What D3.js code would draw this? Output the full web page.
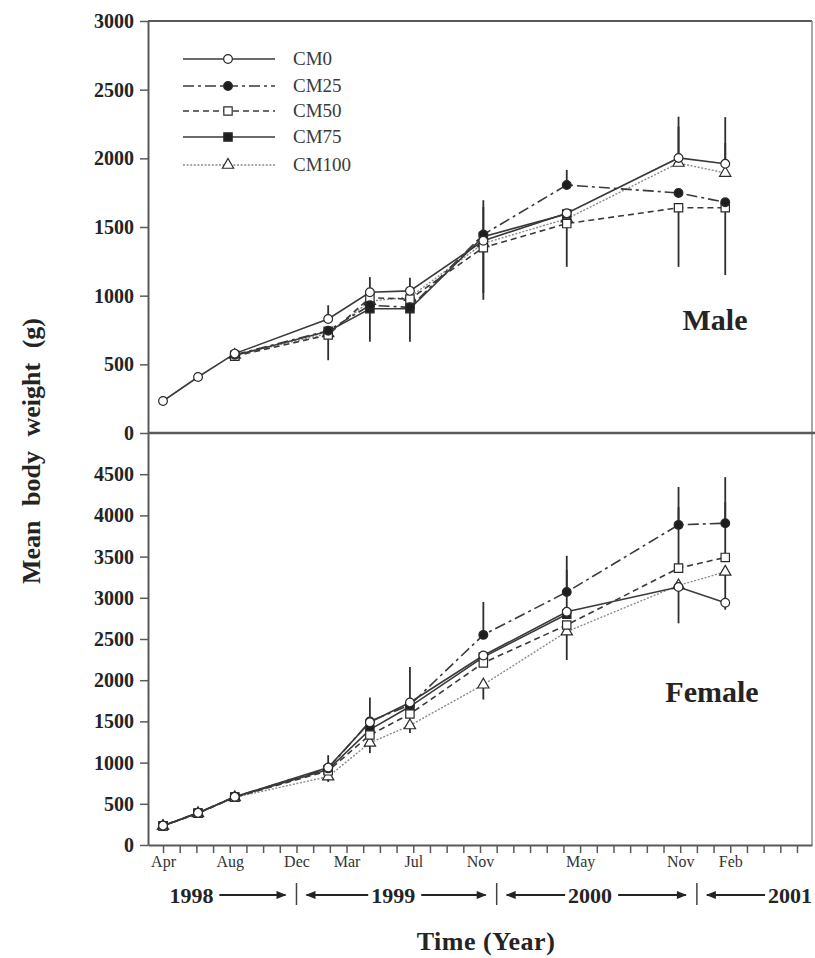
<!DOCTYPE html>
<html>
<head>
<meta charset="utf-8">
<script src="https://cdn.jsdelivr.net/npm/d3@7"></script>
<style>
  body { margin: 0; background: #fff; }
  svg { display: block; }
  text { font-family: "Liberation Serif", "Times New Roman", serif; }
</style>
</head>
<body>
<div id="chart"></div>
<script>
// sampling dates, as month index counted from April 1998
const sampleMonths = [0, 2.1, 4.3, 9.9, 12.4, 14.8, 19.2, 24.2, 30.9, 33.7];
const seriesNames = ["CM0", "CM25", "CM50", "CM75", "CM100"];

// male mean body weight (g)
const maleCM0   = [233, 408, 578, 830, 1025, 1035, 1400, 1600, 2003, 1960];
const maleCM25  = [null, null, 570, 745, 930, 915, 1445, 1806, 1748, 1680];
const maleCM50  = [null, null, 560, 714, 985, 975, 1350, 1525, 1640, 1640];
const maleCM75  = [null, null, 565, 740, 905, 905, 1430, 1595, null, null];
const maleCM100 = [null, null, 568, 725, 960, 990, 1380, 1560, 1966, 1893];

// male SD, drawn one-sided (+ up, - down)
const maleErrCM0   = [0, 0, 0, 100, 110, 95, 246, 0, 300, 340];
const maleErrCM25  = [0, 0, 0, 0, 0, 0, 250, 110, 0, 0];
const maleErrCM50  = [0, 0, 0, -184, 0, 0, -380, -315, -430, -490];
const maleErrCM75  = [0, 0, 0, 0, -240, -240, -410, 0, 0, 0];
const maleErrCM100 = [0, 0, 0, 0, 0, 0, 0, 0, 265, 220];

// female mean body weight (g)
const femaleCM0   = [235, 390, 585, 940, 1490, 1730, 2300, 2830, 3130, 2940];
const femaleCM25  = [235, 390, 585, 930, 1500, 1700, 2550, 3070, 3885, 3905];
const femaleCM50  = [230, 385, 580, 900, 1335, 1590, 2210, 2670, 3360, 3490];
const femaleCM75  = [232, 388, 583, 915, 1400, 1680, 2280, 2800, null, null];
const femaleCM100 = [230, 385, 578, 830, 1240, 1450, 1945, 2590, 3150, 3315];

const femaleErrCM0   = [0, 0, 0, 0, 0, 0, 0, 510, -440, 0];
const femaleErrCM25  = [0, 0, 0, 160, 290, 460, 400, 440, 460, 560];
const femaleErrCM50  = [0, 0, 0, 0, 0, 0, 0, 0, 740, 670];
const femaleErrCM75  = [0, 0, 0, 0, 0, 0, 0, 0, 0, 0];
const femaleErrCM100 = [0, 0, 0, -65, -125, -90, -180, -345, 0, -460];

const maleTicks = [0, 500, 1000, 1500, 2000, 2500, 3000];
const femaleTicks = [0, 500, 1000, 1500, 2000, 2500, 3000, 3500, 4000, 4500];

const monthTickValues = d3.range(0, 39);
const monthLabelValues = [0, 4, 8, 11, 15, 19, 25, 31, 34];
const monthLabels = ["Apr", "Aug", "Dec", "Mar", "Jul", "Nov", "May", "Nov", "Feb"];

const yearLabels = ["1998", "1999", "2000", "2001"];
const yearBreaks = [8, 20, 32];

function chartConfig() {
  let config = {
    width: 815,
    height: 958,
    left: 148,
    right: 812,
    top: 21,
    middle: 433,
    bottom: 845,
    ink: "#242424",
    axisColor: "#5a5a5a",
    container: d3.select("#chart").append("svg")
  };
  config.container
    .attr("width", config.width)
    .attr("height", config.height);
  return config;
}

let cfg = chartConfig();
let svg = cfg.container;

let x = d3.scaleLinear().domain([-0.9, 38.9]).range([cfg.left, cfg.right]);
let yMale = d3.scaleLinear().domain([0, 3000]).range([cfg.middle, cfg.top]);
let yFemale = d3.scaleLinear().domain([0, 5000]).range([cfg.bottom, cfg.middle]);

const seriesStyle = {
  CM0:   { dash: null,       color: "#3a3a3a", width: 1.6, marker: d3.symbolCircle,   size: 60, fill: "#fff" },
  CM25:  { dash: "11,4,3,4", color: "#3a3a3a", width: 1.6, marker: d3.symbolCircle,   size: 60, fill: "#1e1e1e" },
  CM50:  { dash: "6,4",      color: "#3a3a3a", width: 1.6, marker: d3.symbolSquare,   size: 70, fill: "#fff" },
  CM75:  { dash: null,       color: "#3a3a3a", width: 1.6, marker: d3.symbolSquare,   size: 70, fill: "#1e1e1e" },
  CM100: { dash: "2,1.6",    color: "#8a8a8a", width: 1.4, marker: d3.symbolTriangle, size: 55, fill: "#fff" }
};

function buildSeries(values, errs) {
  return values.map((v, i) => ({ m: sampleMonths[i], v: v, e: errs[i] }));
}

const maleData = [
  buildSeries(maleCM0, maleErrCM0),
  buildSeries(maleCM25, maleErrCM25),
  buildSeries(maleCM50, maleErrCM50),
  buildSeries(maleCM75, maleErrCM75),
  buildSeries(maleCM100, maleErrCM100)
];
const femaleData = [
  buildSeries(femaleCM0, femaleErrCM0),
  buildSeries(femaleCM25, femaleErrCM25),
  buildSeries(femaleCM50, femaleErrCM50),
  buildSeries(femaleCM75, femaleErrCM75),
  buildSeries(femaleCM100, femaleErrCM100)
];

function drawPanel(data, y) {
  let g = svg.append("g");
  let line = d3.line()
    .defined(d => d.v != null)
    .x(d => x(d.m))
    .y(d => y(d.v));

  // lines, drawn last series first so solid lines sit on top
  data.slice().reverse().forEach((series, ri) => {
    let name = seriesNames[data.length - 1 - ri];
    let st = seriesStyle[name];
    g.append("path")
      .attr("d", line(series))
      .attr("fill", "none")
      .attr("stroke", st.color)
      .attr("stroke-width", st.width)
      .attr("stroke-dasharray", st.dash);
  });

  // one-sided error bars
  data.forEach(series => {
    g.selectAll(null)
      .data(series.filter(d => d.v != null && d.e !== 0))
      .enter()
      .append("line")
      .attr("x1", d => x(d.m))
      .attr("x2", d => x(d.m))
      .attr("y1", d => y(d.v))
      .attr("y2", d => y(d.v + d.e))
      .attr("stroke", "#2e2e2e")
      .attr("stroke-width", 1.8);
  });

  // markers
  data.slice().reverse().forEach((series, ri) => {
    let name = seriesNames[data.length - 1 - ri];
    let st = seriesStyle[name];
    g.selectAll(null)
      .data(series.filter(d => d.v != null))
      .enter()
      .append("path")
      .attr("transform", d => `translate(${x(d.m)},${y(d.v)})`)
      .attr("d", d3.symbol().type(st.marker).size(st.size))
      .attr("fill", st.fill)
      .attr("stroke", "#2a2a2a")
      .attr("stroke-width", 1.2);
  });
}

drawPanel(maleData, yMale);
drawPanel(femaleData, yFemale);

// frame
svg.append("line")
  .attr("x1", cfg.left).attr("x2", cfg.right)
  .attr("y1", cfg.top).attr("y2", cfg.top)
  .attr("stroke", cfg.axisColor).attr("stroke-width", 2);
svg.append("line")
  .attr("x1", cfg.right).attr("x2", cfg.right)
  .attr("y1", cfg.top).attr("y2", cfg.bottom)
  .attr("stroke", "#8a8a8a").attr("stroke-width", 1.5);
svg.append("line")
  .attr("x1", cfg.left).attr("x2", cfg.right + 3)
  .attr("y1", cfg.middle).attr("y2", cfg.middle)
  .attr("stroke", cfg.axisColor).attr("stroke-width", 2.5);

function styleAxis(sel) {
  sel.select(".domain").attr("stroke", cfg.axisColor).attr("stroke-width", 2);
  sel.selectAll(".tick line").attr("stroke", cfg.axisColor).attr("stroke-width", 1.5);
}

let yAxisMale = svg.append("g")
  .attr("transform", `translate(${cfg.left},0)`)
  .call(d3.axisLeft(yMale).tickValues(maleTicks).tickFormat(d3.format("d"))
    .tickSize(8).tickSizeOuter(0).tickPadding(6));
let yAxisFemale = svg.append("g")
  .attr("transform", `translate(${cfg.left},0)`)
  .call(d3.axisLeft(yFemale).tickValues(femaleTicks).tickFormat(d3.format("d"))
    .tickSize(8).tickSizeOuter(0).tickPadding(6));
[yAxisMale, yAxisFemale].forEach(a => {
  styleAxis(a);
  a.selectAll(".tick text")
    .attr("font-family", "Liberation Serif, serif")
    .attr("font-size", 20)
    .attr("font-weight", "bold")
    .attr("fill", cfg.ink);
});

let xAxis = svg.append("g")
  .attr("transform", `translate(0,${cfg.bottom})`)
  .call(d3.axisBottom(x)
    .tickValues(monthTickValues)
    .tickSize(8)
    .tickSizeOuter(0)
    .tickPadding(3)
    .tickFormat(m => {
      let i = monthLabelValues.indexOf(m);
      return i >= 0 ? monthLabels[i] : "";
    }));
styleAxis(xAxis);
xAxis.selectAll(".tick text")
  .attr("font-family", "Liberation Serif, serif")
  .attr("font-size", 16)
  .attr("fill", "#333");

// year band under the month axis
const yearBase = 903;
let defs = svg.append("defs");
defs.append("marker")
  .attr("id", "arrowHead")
  .attr("viewBox", "0 0 10 10")
  .attr("refX", 9).attr("refY", 5)
  .attr("markerWidth", 12).attr("markerHeight", 10)
  .attr("markerUnits", "userSpaceOnUse")
  .attr("orient", "auto-start-reverse")
  .append("path")
  .attr("d", "M0,1 L10,5 L0,9 Z")
  .attr("fill", cfg.ink);

let yearG = svg.append("g");
yearBreaks.forEach(b => {
  yearG.append("line")
    .attr("x1", x(b)).attr("x2", x(b))
    .attr("y1", yearBase - 20).attr("y2", yearBase + 2)
    .attr("stroke", "#444").attr("stroke-width", 1.5);
});

function yearText(label, px, anchor) {
  return yearG.append("text")
    .attr("x", px)
    .attr("y", yearBase)
    .attr("text-anchor", anchor)
    .attr("font-size", 22)
    .attr("font-weight", "bold")
    .attr("fill", cfg.ink)
    .text(label);
}

function arrow(x1, x2) {
  yearG.append("line")
    .attr("x1", x1).attr("x2", x2)
    .attr("y1", yearBase - 8).attr("y2", yearBase - 8)
    .attr("stroke", cfg.ink).attr("stroke-width", 1.8)
    .attr("marker-end", "url(#arrowHead)");
}

let t1998 = yearText(yearLabels[0], x(1.7), "middle");
let t1999 = yearText(yearLabels[1], x(13.8), "middle");
let t2000 = yearText(yearLabels[2], x(25.6), "middle");
let t2001 = yearText(yearLabels[3], cfg.right, "end");

[[t1998, null, yearBreaks[0]], [t1999, yearBreaks[0], yearBreaks[1]],
 [t2000, yearBreaks[1], yearBreaks[2]], [t2001, yearBreaks[2], null]].forEach(([t, lb, rb]) => {
  let bb = t.node().getBBox();
  if (lb != null) arrow(bb.x - 3, x(lb) + 10);
  if (rb != null) arrow(bb.x + bb.width + 6, x(rb) - 11);
});

// axis titles
svg.append("text")
  .attr("transform", `translate(40,${(cfg.top + cfg.bottom) / 2 + 18}) rotate(-90)`)
  .attr("text-anchor", "middle")
  .attr("font-size", 26)
  .attr("font-weight", "bold")
  .attr("word-spacing", 8)
  .attr("fill", cfg.ink)
  .text("Mean body weight (g)");

svg.append("text")
  .attr("x", 486)
  .attr("y", 950)
  .attr("text-anchor", "middle")
  .attr("font-size", 26)
  .attr("font-weight", "bold")
  .attr("letter-spacing", 0.5)
  .attr("fill", cfg.ink)
  .text("Time (Year)");

// panel labels
svg.append("text")
  .attr("x", 715).attr("y", 330)
  .attr("text-anchor", "middle")
  .attr("font-size", 30).attr("font-weight", "bold")
  .attr("fill", cfg.ink)
  .text("Male");
svg.append("text")
  .attr("x", 712).attr("y", 702)
  .attr("text-anchor", "middle")
  .attr("font-size", 30).attr("font-weight", "bold")
  .attr("fill", cfg.ink)
  .text("Female");

// legend
let legend = svg.append("g");
const legendRows = [59, 86, 111, 137, 165];
seriesNames.forEach((name, i) => {
  let st = seriesStyle[name];
  let ly = legendRows[i];
  legend.append("line")
    .attr("x1", 183).attr("x2", 275)
    .attr("y1", ly).attr("y2", ly)
    .attr("stroke", st.color)
    .attr("stroke-width", st.width)
    .attr("stroke-dasharray", st.dash);
  legend.append("path")
    .attr("transform", `translate(228,${ly})`)
    .attr("d", d3.symbol().type(st.marker).size(st.size))
    .attr("fill", st.fill)
    .attr("stroke", "#2a2a2a")
    .attr("stroke-width", 1.2);
  legend.append("text")
    .attr("x", 293).attr("y", ly + 6)
    .attr("font-size", 19)
    .attr("fill", "#3a3a3a")
    .text(name);
});
</script>
</body>
</html>
